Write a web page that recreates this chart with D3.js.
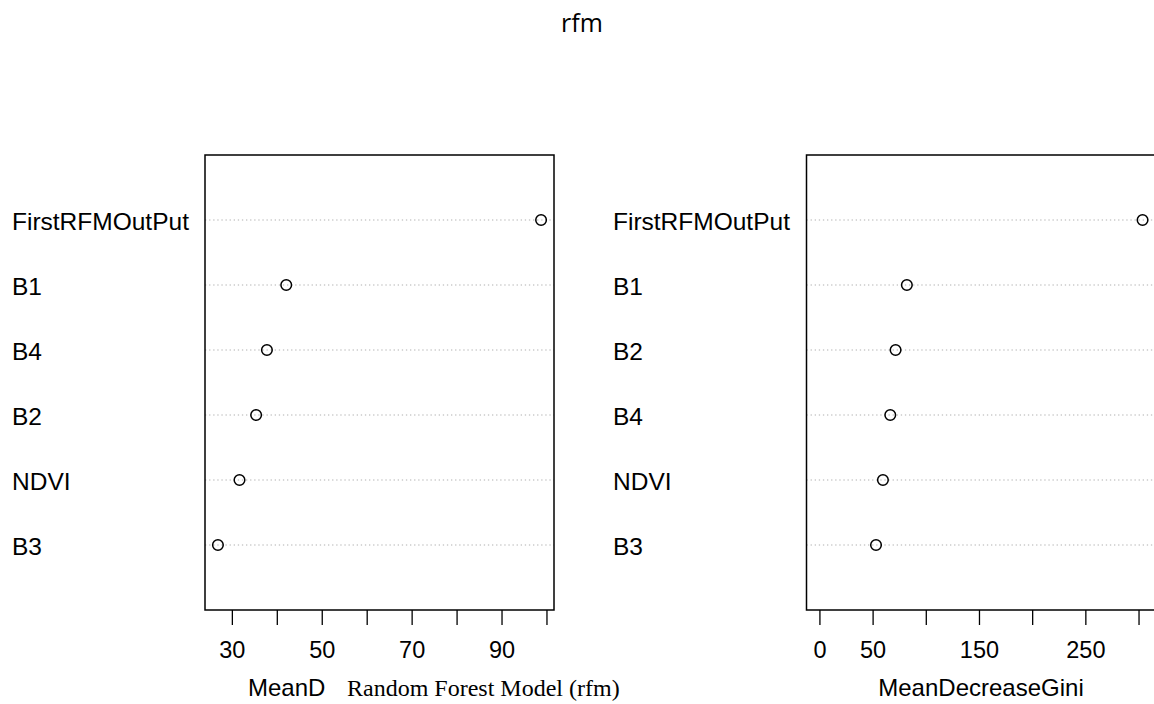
<!DOCTYPE html>
<html>
<head>
<meta charset="utf-8">
<script src="https://cdn.jsdelivr.net/npm/d3@7"></script>
<style>
  body { margin: 0; background: #fff; }
  svg { display: block; }
</style>
</head>
<body>
<svg id="chart" width="1154" height="704"></svg>
<script>
// ---- data ----
const accLabels = ["FirstRFMOutPut", "B1", "B4", "B2", "NDVI", "B3"];
const accValues = [98.8, 42.1, 37.8, 35.4, 31.7, 26.9];
const giniLabels = ["FirstRFMOutPut", "B1", "B2", "B4", "NDVI", "B3"];
const giniValues = [303.8, 82.2, 71.6, 66.6, 59.7, 53.2];
const accTicks = [30, 40, 50, 60, 70, 80, 90, 100];
const accTickLabels = [30, 50, 70, 90];
const giniTicks = [0, 50, 100, 150, 200, 250, 300];
const giniTickLabels = [0, 50, 150, 250];

const svg = d3.select("#chart");
const SANS = "'Liberation Sans', Arial, sans-serif";
const SERIF = "'Liberation Serif', 'Times New Roman', serif";

svg.append("text")
  .attr("x", 582).attr("y", 32)
  .attr("text-anchor", "middle")
  .attr("font-family", "'Open Sans', sans-serif")
  .attr("font-size", 25)
  .attr("fill", "#000")
  .text("rfm");

function panel(opts) {
  const { labels, values, left, right, xmin, ticks, tickLabels, labelX } = opts;
  const top = 155, bottom = 610;
  const lo = xmin !== undefined ? xmin : d3.min(values);
  const hi = d3.max(values);
  const ext = (hi - lo) * 0.04;
  const x = d3.scaleLinear().domain([lo - ext, hi + ext]).range([left, right]);
  const n = labels.length;
  const y = d3.scaleLinear().domain([0, n + 1]).range([bottom, top]);
  const g = svg.append("g");

  // dotted guide lines
  g.selectAll("line.guide").data(labels).join("line")
    .attr("class", "guide")
    .attr("x1", left).attr("x2", right)
    .attr("y1", (d, i) => y(n - i)).attr("y2", (d, i) => y(n - i))
    .attr("stroke", "#b0b0b0").attr("stroke-width", 1.2)
    .attr("stroke-dasharray", "1.3,2.8");

  // points
  g.selectAll("circle").data(values).join("circle")
    .attr("cx", d => x(d))
    .attr("cy", (d, i) => y(n - i))
    .attr("r", 5.3)
    .attr("fill", "none").attr("stroke", "#000").attr("stroke-width", 1.5);

  // box
  g.append("rect")
    .attr("x", left).attr("y", top)
    .attr("width", right - left).attr("height", bottom - top)
    .attr("fill", "none").attr("stroke", "#000").attr("stroke-width", 1.5);

  // row labels
  g.selectAll("text.lab").data(labels).join("text")
    .attr("class", "lab")
    .attr("x", labelX)
    .attr("y", (d, i) => y(n - i) + 10)
    .attr("font-family", SANS).attr("font-size", 24.5)
    .attr("fill", "#000")
    .text(d => d);

  // x axis
  const axis = d3.axisBottom(x)
    .tickValues(ticks)
    .tickSize(15)
    .tickPadding(16)
    .tickFormat(d => tickLabels.includes(d) ? d : "");
  const ax = g.append("g").attr("transform", `translate(0,${bottom})`).call(axis);
  ax.select(".domain").remove();
  ax.selectAll(".tick line").attr("stroke", "#000").attr("stroke-width", 1.3);
  ax.selectAll(".tick text")
    .attr("font-family", SANS).attr("font-size", 23.5).attr("fill", "#000");
  return x;
}

panel({ labels: accLabels, values: accValues, left: 205, right: 554,
        ticks: accTicks, tickLabels: accTickLabels, labelX: 12 });
panel({ labels: giniLabels, values: giniValues, left: 806.5, right: 1155.5, xmin: 0,
        ticks: giniTicks, tickLabels: giniTickLabels, labelX: 613 });

// axis titles
svg.append("text")
  .attr("x", 248).attr("y", 696)
  .attr("font-family", SANS).attr("font-size", 24).attr("fill", "#000")
  .text("MeanD");
svg.append("text")
  .attr("x", 347).attr("y", 696)
  .attr("font-family", SERIF).attr("font-size", 24).attr("fill", "#000")
  .text("Random Forest Model (rfm)");
svg.append("text")
  .attr("x", 981).attr("y", 696)
  .attr("text-anchor", "middle")
  .attr("font-family", SANS).attr("font-size", 24).attr("fill", "#000")
  .text("MeanDecreaseGini");
</script>
</body>
</html>
